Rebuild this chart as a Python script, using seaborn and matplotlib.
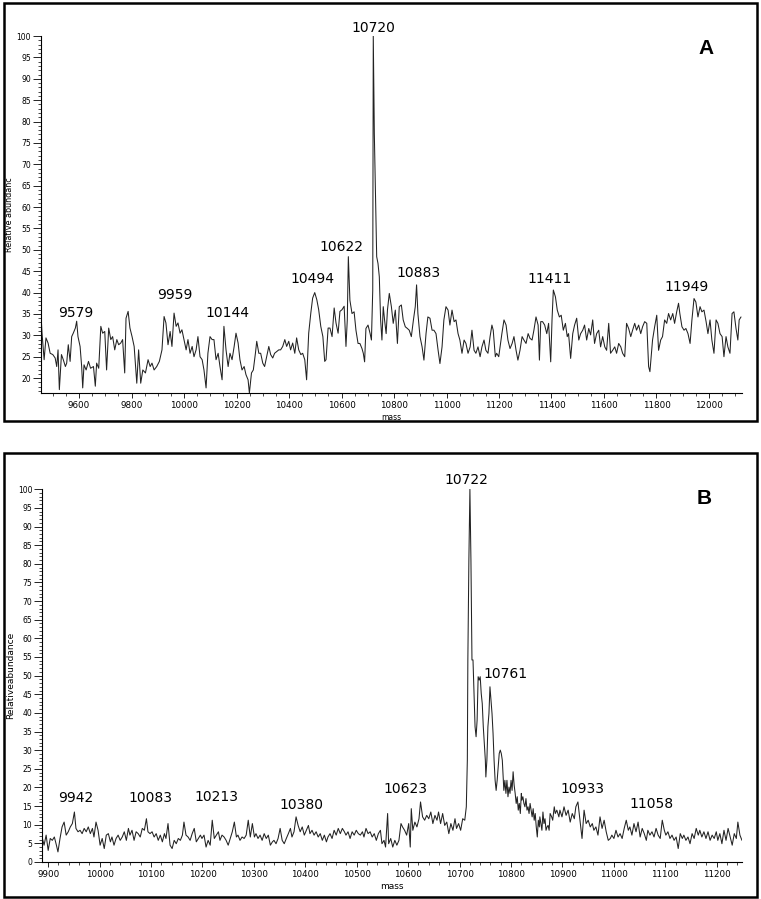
import pandas as pd
import matplotlib
matplotlib.use('Agg')
import matplotlib.pyplot as plt
from matplotlib.patches import Rectangle
from matplotlib.ticker import MultipleLocator
import seaborn as sns

# ---- panel A : spectrum (mass, relative abundance) ----
mass_a = [
    9454, 9459, 9467, 9474, 9482, 9490, 9500, 9509, 9515, 9520,
    9525, 9533, 9540, 9548, 9553, 9559, 9566, 9572, 9578, 9586,
    9591, 9596, 9604, 9610, 9614, 9619, 9627, 9636, 9644, 9655,
    9662, 9667, 9675, 9683, 9690, 9698, 9705, 9713, 9721, 9728,
    9736, 9744, 9751, 9759, 9766, 9774, 9779, 9787, 9794, 9802,
    9810, 9820, 9827, 9835, 9843, 9853, 9863, 9871, 9878, 9886,
    9896, 9906, 9916, 9924, 9931, 9939, 9947, 9954, 9962, 9970,
    9977, 9985, 9992, 10000, 10008, 10015, 10023, 10031, 10038, 10046,
    10053, 10061, 10069, 10076, 10084, 10091, 10099, 10107, 10114, 10122,
    10130, 10137, 10145, 10152, 10160, 10168, 10175, 10183, 10191, 10198,
    10206, 10213, 10221, 10229, 10236, 10244, 10249, 10257, 10264, 10272,
    10277, 10285, 10292, 10300, 10307, 10315, 10323, 10330, 10338, 10345,
    10353, 10361, 10368, 10376, 10384, 10391, 10399, 10406, 10414, 10422,
    10429, 10437, 10445, 10452, 10460, 10467, 10475, 10483, 10490, 10498,
    10506, 10513, 10521, 10529, 10536, 10541, 10549, 10556, 10564, 10572,
    10579, 10587, 10594, 10602, 10610, 10617, 10622,
    10626, 10632, 10640, 10648, 10655, 10663, 10670, 10678, 10683, 10688,
    10693, 10701, 10709, 10714, 10719, 10721, 10725, 10729, 10734, 10739,
    10744, 10749, 10754, 10759, 10764, 10770, 10775, 10782, 10790, 10797,
    10805, 10813, 10820, 10828, 10835, 10843, 10851, 10858, 10866, 10874,
    10881, 10886, 10891, 10899, 10907, 10914, 10922, 10929, 10937, 10945,
    10952, 10960, 10968, 10975, 10983, 10990, 10998, 11006, 11013, 11021,
    11029, 11036, 11044, 11051, 11059, 11067, 11074, 11082, 11090, 11097,
    11105, 11112, 11120, 11128, 11135, 11143, 11150, 11158, 11166, 11173,
    11178, 11186, 11191, 11199,
    11204, 11211, 11219, 11227, 11234, 11242, 11250, 11257, 11265, 11272,
    11280, 11288, 11295, 11303, 11311, 11318, 11326, 11333, 11341, 11349,
    11354, 11359, 11366, 11374, 11382, 11389, 11397, 11402, 11407, 11415,
    11422, 11430, 11437, 11445, 11453, 11460, 11465, 11473, 11481, 11488,
    11496, 11504, 11511, 11519, 11526, 11534, 11542, 11549, 11557, 11564,
    11572, 11580, 11587, 11595, 11603, 11610, 11618, 11625, 11633, 11641,
    11648, 11656, 11664, 11671, 11679, 11686, 11694, 11702, 11709, 11717,
    11724, 11732, 11740, 11747, 11755, 11763, 11770, 11775, 11785, 11793,
    11801, 11808, 11816, 11823, 11831, 11839, 11846, 11854, 11862, 11869,
    11877, 11884, 11889, 11897, 11905, 11912, 11920, 11928, 11935, 11943,
    11950, 11958, 11966, 11973, 11981, 11989, 11996, 12004, 12011, 12019,
    12027, 12034, 12042, 12050, 12057, 12065, 12072, 12080, 12088, 12095,
    12103, 12110, 12115, 12122,
]
abund_a = [
    36, 30.5, 24.3, 29.4, 28.2, 25.8, 25.5, 24.7, 22.7, 26.6,
    17.3, 25.5, 24.3, 22.7, 23.5, 27.8, 23.9, 29.7, 30.5, 31.7,
    33.3, 29.7, 27.4, 22.7, 17.7, 23.1, 21.9, 23.9, 22.3, 22.7,
    18.1, 23.5, 22.3, 32.1, 30.5, 30.9, 21.9, 31.7, 29, 29.7,
    26.6, 29, 27.8, 28.2, 29, 21.2, 34, 35.6, 31.7, 29.7,
    27.4, 18.8, 26.6, 18.8, 21.9, 21.2, 24.3, 22.7, 23.5, 21.9,
    22.7, 23.9, 26.6, 34.4, 32.9, 27.8, 30.9, 27.4, 35.2, 32.1,
    32.9, 30.5, 31.3, 29, 26.6, 29, 25.8, 27.4, 25, 26.6,
    29.7, 25, 24.3, 21.9, 17.7, 25.8, 29.7, 29, 29, 24.3,
    25.8, 22.7, 19.6, 32.1, 26.6, 22.7, 25.8, 24.3, 27.4, 30.5,
    28.2, 24.3, 21.9, 22.7, 20.8, 19.6, 16.5, 21.2, 21.9, 25.8,
    28.6, 25.8, 25.8, 23.5, 22.7, 25, 27.4, 25.5, 24.7, 25.8,
    26.2, 26.6, 26.6, 27.4, 29, 27.4, 28.6, 26.6, 28.2, 25.8,
    29.4, 26.6, 25.5, 25.8, 24.3, 19.6, 30.5, 35.2, 38.7, 40,
    38.3, 36, 32.1, 29.7, 23.9, 24.3, 31.7, 31.7, 29.7, 36.4,
    32.9, 30.5, 35.6, 36, 36.8, 27.4, 33.6,
    48.4, 38.2, 35.1, 35.5, 31.2, 28.1, 28.1, 26.9, 25.8, 23.8,
    31.6, 32.4, 30.4, 28.9, 40.6, 100, 77.2, 64.8, 48.4, 46.8,
    43.7, 33.6, 28.9, 36.7, 33.6, 30.4, 35.9, 39.8, 36.7, 32.8,
    35.9, 28.1, 36.7, 37.1, 33.6, 32, 31.6, 31.2, 29.7, 33.6,
    36.7, 41.8, 35.1, 29.7, 27.3, 24.2, 30.4, 34.3, 34, 31.2,
    31.2, 30.4, 26.5, 23.4, 27.3, 33.6, 36.7, 35.9, 32.4, 35.9,
    33.2, 33.6, 30.4, 28.9, 25.8, 28.9, 28.1, 25.8, 27.3, 31.2,
    26.5, 25.8, 27.3, 25, 27.3, 28.9, 26.5, 25.8, 29.7, 32.4,
    31.2, 25, 25.8, 25,
    27.3, 30.4, 33.6, 32.4, 28.9, 26.9, 28.1, 29.7, 26.5, 24.2,
    26.5, 29.7, 28.9, 28.1, 30.4, 29.3, 28.9, 31.2, 34.3, 32.4,
    24.2, 33.2, 33.2, 32.4, 30.4, 32.8, 23.8, 33.6, 40.6, 39,
    35.9, 34.3, 34.7, 31.2, 32.8, 29.7, 30.4, 24.6, 30.4, 32.4,
    34, 28.9, 30.4, 31.2, 32.4, 28.9, 31.6, 30.1, 33.6, 28.1,
    30.4, 31.2, 27.3, 29.7, 27.3, 26.5, 32.8, 25.8, 26.5, 27.3,
    25.8, 28.1, 27.3, 25.8, 25, 32.8, 31.6, 29.7, 31.2, 32.8,
    31.2, 32.4, 30.4, 32, 33.2, 32.8, 22.7, 21.5, 28.9, 32,
    34.7, 26.5, 28.9, 29.7, 33.6, 32.8, 35.1, 33.6, 35.1, 32.8,
    35.5, 37.5, 35.1, 32, 31.2, 31.6, 30.4, 28.1, 33.6, 38.6,
    37.8, 34.3, 36.7, 35.5, 35.9, 33.2, 30.4, 33.6, 28.9, 25.8,
    33.6, 32.8, 30.4, 29.7, 25, 29.7, 27.3, 25.8, 35.1, 35.5,
    31.6, 28.9, 33.6, 34.3,
]
peaks_a = ['9579', '9959', '10144', '10494', '10622', '10720',
           '10883', '11411', '11949']

# ---- panel B ----
mass_b = [
    9888, 9892, 9896, 9900, 9904, 9908, 9912, 9916, 9919, 9923,
    9927, 9931, 9935, 9939, 9943, 9947, 9951, 9954, 9958, 9962,
    9966, 9970, 9974, 9978, 9982, 9986, 9989, 9993, 9997, 10001,
    10005, 10009, 10013, 10017, 10021, 10024, 10028, 10032, 10036, 10040,
    10044, 10048, 10052, 10056, 10059, 10063, 10067, 10071, 10075, 10079,
    10083, 10087, 10091, 10094, 10098, 10102, 10106, 10110, 10114, 10118,
    10122, 10126, 10129, 10133, 10137, 10141, 10145, 10149, 10153, 10157,
    10161, 10164, 10168, 10172, 10176, 10180, 10184, 10188, 10192, 10196,
    10199, 10203, 10207, 10211, 10215, 10219, 10223, 10227, 10231, 10234,
    10238, 10242, 10246, 10250, 10254, 10258, 10262, 10266, 10269, 10273,
    10277, 10281, 10285, 10289, 10293, 10297, 10301, 10304, 10308, 10312,
    10316, 10320, 10324, 10328, 10332, 10336, 10339, 10343, 10347, 10351,
    10355, 10359, 10363, 10367, 10371, 10374, 10378, 10382, 10386, 10390,
    10394, 10398, 10402, 10406, 10409, 10413, 10417, 10421, 10425, 10429,
    10433, 10437, 10441, 10444, 10448, 10452, 10456, 10460, 10464, 10468,
    10472, 10476, 10479, 10483, 10487, 10491, 10495, 10499, 10503, 10507,
    10511, 10514, 10518, 10522, 10526, 10530, 10534, 10538, 10542, 10546,
    10549, 10553, 10556, 10560, 10562, 10566, 10570, 10574, 10578, 10582,
    10586, 10589, 10593, 10597, 10601, 10604, 10606, 10609, 10613, 10617,
    10621, 10624, 10628, 10632, 10636, 10640, 10644, 10648, 10652, 10656,
    10659, 10663, 10667, 10671, 10675, 10679, 10683, 10687, 10691, 10694,
    10698, 10702, 10706, 10710, 10713, 10715, 10716, 10718, 10720, 10722,
    10724, 10726, 10728, 10730, 10732, 10734, 10736, 10738, 10740, 10742,
    10744, 10746, 10748, 10750, 10751, 10753, 10755, 10757, 10759, 10761,
    10763, 10765, 10767, 10769, 10771, 10773, 10775, 10777, 10779, 10781,
    10783, 10785, 10786, 10788, 10790, 10792, 10794, 10796, 10798, 10800,
    10802, 10804, 10806, 10808, 10810, 10812, 10814, 10816, 10818, 10820,
    10821, 10823, 10825, 10827, 10829, 10831, 10833, 10835, 10837, 10839,
    10841, 10843, 10845, 10847, 10849, 10851, 10853, 10855, 10856, 10858,
    10860, 10862, 10864, 10866, 10868, 10870, 10872, 10874, 10876, 10879,
    10881, 10884, 10886, 10889, 10893,
    10895, 10899, 10903, 10907, 10911, 10915, 10919, 10923, 10926, 10930,
    10934, 10938, 10942, 10946, 10950, 10954, 10958, 10961, 10965, 10969,
    10973, 10977, 10981, 10985, 10989, 10993, 10996, 11000, 11004, 11008,
    11012, 11016, 11020, 11024, 11028, 11031, 11035, 11039, 11043, 11047,
    11051, 11055, 11059, 11063, 11066, 11070, 11074, 11078, 11082, 11086,
    11090, 11094, 11098, 11101, 11105, 11109, 11113, 11117, 11121, 11125,
    11129, 11133, 11136, 11140, 11144, 11148, 11152, 11156, 11160, 11164,
    11167, 11171, 11175, 11179, 11183, 11187, 11191, 11195, 11199, 11202,
    11206, 11210, 11214, 11218, 11222, 11226, 11230, 11234, 11238, 11241,
    11245, 11249,
]
abund_b = [
    6.7, 4.5, 7.2, 3.1, 6.3, 5.8, 6.7, 4.5, 2.7, 6.3,
    9.4, 10.7, 7.2, 8.1, 9.4, 10.3, 13.4, 9, 8.1, 8.5,
    7.6, 9, 8.1, 9.4, 7.6, 9, 6.7, 10.7, 8.5, 4.5,
    6.3, 3.6, 7.2, 7.6, 5.4, 6.7, 4.5, 6.3, 7.2, 5.8,
    6.7, 8.1, 5.8, 9, 7.2, 8.5, 5.8, 8.1, 7.6, 6.7,
    9, 8.5, 11.6, 8.1, 7.6, 8.1, 6.7, 7.6, 5.8, 7.2,
    5.4, 7.6, 6.3, 10.3, 4.5, 3.6, 5.8, 4.9, 6.3, 5.8,
    7.2, 10.7, 7.2, 6.7, 5.8, 7.6, 9, 5.4, 6.3, 7.2,
    6.3, 7.2, 4, 5.8, 4.5, 11.2, 6.3, 7.2, 8.1, 5.8,
    7.2, 6.7, 5.8, 4.5, 6.3, 8.1, 10.7, 6.7, 7.2, 5.8,
    6.7, 6.3, 7.2, 11.2, 6.7, 10.3, 6.7, 7.6, 6.3, 7.2,
    5.8, 7.6, 6.3, 7.2, 4.5, 5.4, 5.8, 4.9, 6.3, 9,
    5.8, 4.9, 6.3, 7.6, 9, 6.7, 8.1, 12.1, 9.8, 8.1,
    9.4, 7.2, 8.5, 9.8, 7.6, 8.5, 7.2, 8.1, 6.7, 7.6,
    5.8, 7.2, 5.4, 6.7, 7.6, 6.3, 8.5, 7.2, 9, 7.6,
    9, 8.1, 7.2, 8.1, 6.3, 8.1, 7.2, 8.5, 7.6, 7.2,
    8.1, 6.7, 9, 7.6, 8.1, 6.7, 7.6, 5.8, 7.6, 8.5,
    4.9, 5.8, 4, 13, 4.9, 6.3, 4, 5.8, 4.5, 5.8,
    10.3, 9.4, 8.5, 7.2, 10.3, 4, 14.3, 8.5, 10.7, 9.4,
    11.6, 16.1, 12.1, 11.2, 12.5, 11.6, 13.4, 10.3, 12.5, 11.2,
    13.4, 10.3, 13, 9.8, 10.7, 7.6, 10.3, 8.5, 11.6, 9,
    10.3, 8.5, 11.6, 11.2, 14.8, 27.3, 54.2, 81, 100, 81,
    54.2, 54.2, 45.2, 36.3, 33.6, 38, 49.7, 48.8, 49.7, 45.2,
    42.5, 36.3, 31.8, 27.3, 22.8, 27.3, 36.3, 39.8, 47, 43.4,
    39.8, 34.5, 27.3, 21.9, 19.2, 21.9, 25.5, 29.1, 30, 29.1,
    27.3, 21.9, 19.2, 21.9, 18.4, 21.9, 17.5, 20.1, 18.4, 21.9,
    19.2, 24.2, 20.6, 18.4, 15.7, 17.5, 13.9, 15.7, 13, 18.4,
    16.6, 17.5, 15.7, 14.8, 17, 13.9, 14.8, 13, 15.7, 13.9,
    12.1, 14.3, 11.2, 13, 9.4, 6.7, 11.2, 9.4, 12.1, 10.3,
    8.5, 13.4, 10.3, 11.6, 8.5, 9.4, 9.8, 8.5, 13, 12.1,
    11.2, 14.8, 13, 13.9, 12.1,
    13.9, 12.1, 14.8, 12.5, 13.9, 10.7, 13, 11.6, 14.8, 16.1,
    11.2, 6.3, 13.9, 10.3, 11.2, 9.4, 10.3, 8.5, 9.4, 7.2,
    12.1, 9, 11.2, 8.1, 5.8, 6.3, 7.2, 6.3, 8.5, 6.7,
    7.6, 6.3, 9, 11.2, 8.5, 9.4, 7.2, 10.3, 8.1, 10.7,
    6.7, 9, 7.6, 5.8, 8.5, 7.2, 8.1, 6.7, 9, 7.2,
    6.3, 11.2, 8.5, 7.2, 8.1, 6.3, 7.2, 5.8, 6.7, 3.6,
    7.6, 6.3, 7.2, 5.8, 6.7, 4.9, 7.6, 6.3, 9, 7.2,
    8.5, 6.7, 8.1, 6.3, 8.1, 5.8, 7.2, 6.3, 8.1, 5.8,
    7.6, 4.9, 8.5, 5.8, 9, 6.7, 4.5, 7.6, 6.3, 10.7,
    7.2, 5.8,
]
peaks_b = ['9942', '10083', '10213', '10380', '10623', '10722',
           '10761', '10933', '11058']

# where the peak labels sit (data coords of text centre)
lab_a_x = [9589, 9966, 10164, 10488, 10598, 10720, 10892, 11394, 11913]
lab_a_y = [35.2, 39.4, 35.2, 43.2, 50.6, 101.9, 44.6, 43.2, 41.3]
lab_b_x = [9954, 10098, 10227, 10392, 10594, 10713, 10790, 10938, 11074]
lab_b_y = [17.1, 17.1, 17.4, 15.2, 19.5, 102.5, 50.4, 19.5, 15.5]

# plain black on white, like the scanned figure
sns.set_style('ticks', {'axes.edgecolor': 'black', 'xtick.color': 'black',
                        'ytick.color': 'black', 'text.color': 'black',
                        'axes.labelcolor': 'black'})
plt.rcParams['font.family'] = ['DejaVu Sans']

fig = plt.figure(figsize=(7.61, 8.99), dpi=100)

# outer frames round each panel
fig.add_artist(Rectangle((0.0053, 0.5317), 0.9895, 0.4650, transform=fig.transFigure,
                         fill=False, lw=1.8, ec='black'))
fig.add_artist(Rectangle((0.0053, 0.0022), 0.9895, 0.4939, transform=fig.transFigure,
                         fill=False, lw=1.8, ec='black'))

ax_a = fig.add_axes([0.0535, 0.5628, 0.9216, 0.3971])
ax_b = fig.add_axes([0.0552, 0.0412, 0.9198, 0.4146])


def draw_panel(ax, mass, abund, peaks, lx, ly, xlim, ylim, xmaj, xmin, ylab,
               letter, letter_xy, ysize, lsize):
    df = pd.DataFrame({'mass': mass, 'abund': abund})
    sns.lineplot(data=df, x='mass', y='abund', ax=ax, color='#222222',
                 linewidth=0.75, estimator=None, sort=False)
    ax.set_xlim(*xlim)
    ax.set_ylim(*ylim)
    ax.xaxis.set_major_locator(MultipleLocator(xmaj))
    ax.xaxis.set_minor_locator(MultipleLocator(xmin))
    ax.yaxis.set_major_locator(MultipleLocator(5))
    ax.yaxis.set_minor_locator(MultipleLocator(1))
    ax.tick_params(axis='y', which='major', length=6, width=0.6, pad=1, labelsize=5.5)
    ax.tick_params(axis='y', which='minor', length=2, width=0.5)
    ax.tick_params(axis='x', which='major', length=3.5, width=0.6, pad=2.5, labelsize=6.3)
    ax.tick_params(axis='x', which='minor', length=2, width=0.5)
    for s in ['top', 'right']:
        ax.spines[s].set_visible(False)
    for s in ['left', 'bottom']:
        ax.spines[s].set_linewidth(0.8)
    ax.set_ylabel(ylab, fontsize=ysize, labelpad=2)
    ax.set_xlabel('mass', fontsize=lsize, labelpad=2)
    for txt, x, y in zip(peaks, lx, ly):
        ax.text(x, y, txt, ha='center', va='center', fontsize=10,
                color='black', clip_on=False)
    ax.text(letter_xy[0], letter_xy[1], letter, ha='center', va='center',
            fontsize=15, fontweight='bold', family='Liberation Sans')


draw_panel(ax_a, mass_a, abund_a, peaks_a, lab_a_x, lab_a_y,
           (9454, 12126), (16.5, 100), 200, 50, 'Relative abundanc',
           'A', (11989, 97), 5.8, 5.5)
draw_panel(ax_b, mass_b, abund_b, peaks_b, lab_b_x, lab_b_y,
           (9888, 11249), (0, 100), 100, 20, 'Relativeabundance',
           'B', (11175, 97.4), 6.5, 6.5)

fig.savefig('out.png', dpi=100)
